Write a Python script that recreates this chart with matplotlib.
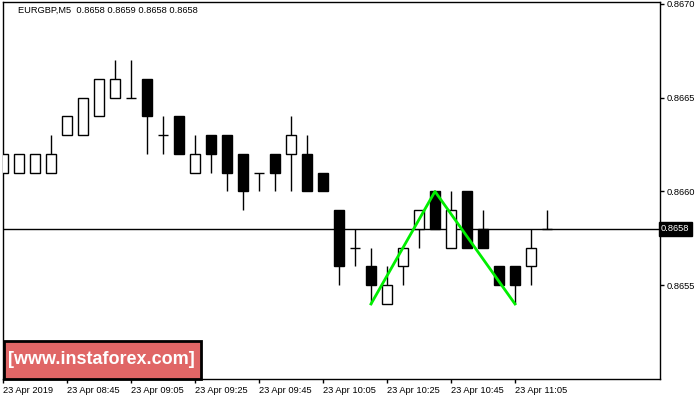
import matplotlib
matplotlib.use("Agg")
import matplotlib.pyplot as plt
import matplotlib.patches as patches
import numpy as np

# =====================================================
# DATA  (EURGBP, M5, 23 Apr 2019 from 08:25)
# =====================================================

opens = [0.8661, 0.8661, 0.8661, 0.8661, 0.8663, 0.8663, 0.8664, 0.8665, 0.8665, 0.8666,
         0.8663, 0.8664, 0.8661, 0.8663, 0.8663, 0.8662, 0.8661, 0.8662, 0.8662, 0.8662,
         0.8661, 0.8659, 0.8657, 0.8656, 0.8654, 0.8656, 0.8658, 0.8660, 0.8657, 0.8660,
         0.8658, 0.8656, 0.8656, 0.8656, 0.8658]
highs = [0.8662, 0.8662, 0.8662, 0.8663, 0.8664, 0.8665, 0.8666, 0.8667, 0.8667, 0.8666,
         0.8664, 0.8664, 0.8663, 0.8663, 0.8663, 0.8662, 0.8661, 0.8662, 0.8664, 0.8663,
         0.8661, 0.8659, 0.8658, 0.8657, 0.8656, 0.8657, 0.8659, 0.8660, 0.8660, 0.8660,
         0.8659, 0.8656, 0.8656, 0.8658, 0.8659]
lows = [0.8661, 0.8661, 0.8661, 0.8661, 0.8663, 0.8663, 0.8664, 0.8665, 0.8665, 0.8662,
        0.8662, 0.8662, 0.8661, 0.8661, 0.8660, 0.8659, 0.8660, 0.8660, 0.8660, 0.8660,
        0.8660, 0.8655, 0.8656, 0.8654, 0.8654, 0.8655, 0.8657, 0.8658, 0.8657, 0.8657,
        0.8657, 0.8655, 0.8654, 0.8655, 0.8658]
closes = [0.8662, 0.8662, 0.8662, 0.8662, 0.8664, 0.8665, 0.8666, 0.8666, 0.8665, 0.8664,
          0.8663, 0.8662, 0.8662, 0.8662, 0.8661, 0.8660, 0.8661, 0.8661, 0.8663, 0.8660,
          0.8660, 0.8656, 0.8657, 0.8655, 0.8655, 0.8657, 0.8659, 0.8658, 0.8659, 0.8657,
          0.8657, 0.8655, 0.8655, 0.8657, 0.8658]

tick_bars = [0, 4, 8, 12, 16, 20, 24, 28, 32]
tick_labels = ["23 Apr 2019", "23 Apr 08:45", "23 Apr 09:05", "23 Apr 09:25",
               "23 Apr 09:45", "23 Apr 10:05", "23 Apr 10:25", "23 Apr 10:45",
               "23 Apr 11:05"]

price_ticks = [0.8655, 0.8660, 0.8665, 0.8670]

# double top pattern (bar index, price)
pattern_bars = [23, 27, 32]
pattern_prices = [0.8654, 0.8660, 0.8654]

current_price = 0.8658
title_text = "EURGBP,M5  0.8658 0.8659 0.8658 0.8658"

# =====================================================
# FIGURE
# =====================================================

W, H = 700, 400
fig = plt.figure(figsize=(7, 4), dpi=100)
fig.patch.set_facecolor("white")

ax = fig.add_axes([2.5 / W, (H - 379) / H, (660 - 2.5) / W, (379 - 2) / H])

x = np.arange(len(opens))
o = np.array(opens)
c = np.array(closes)

body_w = 0.63

# wicks
ax.vlines(x, lows, highs, color="black", linewidth=1, zorder=2)

# bodies
for i in range(len(x)):
    if o[i] == c[i]:
        ax.hlines(o[i], x[i] - body_w / 2, x[i] + body_w / 2,
                  color="black", linewidth=1, zorder=3)
    else:
        up = c[i] > o[i]
        ax.bar(x[i], abs(c[i] - o[i]), bottom=min(o[i], c[i]), width=body_w,
               facecolor="white" if up else "black", edgecolor="black",
               linewidth=1, zorder=3)

# current price line
ax.axhline(current_price, color="black", linewidth=1, zorder=1)

# pattern
ax.plot(pattern_bars, pattern_prices, color="#00ee00", linewidth=2, zorder=4)

ax.set_xlim(-0.03, (660 - 3) / 16)
ax.set_ylim(0.8650, 0.86701)

ax.yaxis.tick_right()
ax.set_yticks(price_ticks)
ax.set_yticklabels([f"{p:.4f}" for p in price_ticks])
ax.set_xticks(tick_bars)
ax.set_xticklabels(tick_labels, ha="left")

ax.tick_params(axis="both", direction="out", length=3, width=1,
               labelsize=6.7, colors="black", pad=2)
for lab in ax.get_xticklabels() + ax.get_yticklabels():
    lab.set_fontfamily("Liberation Sans")

for s in ax.spines.values():
    s.set_linewidth(1)
    s.set_color("black")

# current price label on the axis
ax.text(1.0015, current_price, f"{current_price:.4f}", transform=ax.get_yaxis_transform(),
        ha="left", va="center", fontsize=6.7, family="Liberation Sans", color="white",
        bbox=dict(boxstyle="square,pad=0.25", facecolor="black", edgecolor="black"),
        zorder=10, clip_on=False)

# title
fig.text(18 / W, 1 - 10 / H, title_text, ha="left", va="center",
         fontsize=6.7, family="Liberation Sans", color="black")

# watermark
fig.patches.append(patches.Rectangle((3.5 / W, (H - 378.5) / H), 197 / W, 38 / H,
                                     transform=fig.transFigure, facecolor="#e06666",
                                     edgecolor="black", linewidth=2, zorder=20))
fig.text(101 / W, (H - 360) / H, "[www.instaforex.com]", ha="center", va="center",
         fontsize=13, fontweight="bold", family="Liberation Sans", color="white",
         zorder=21)

fig.savefig("out.png", dpi=100)
